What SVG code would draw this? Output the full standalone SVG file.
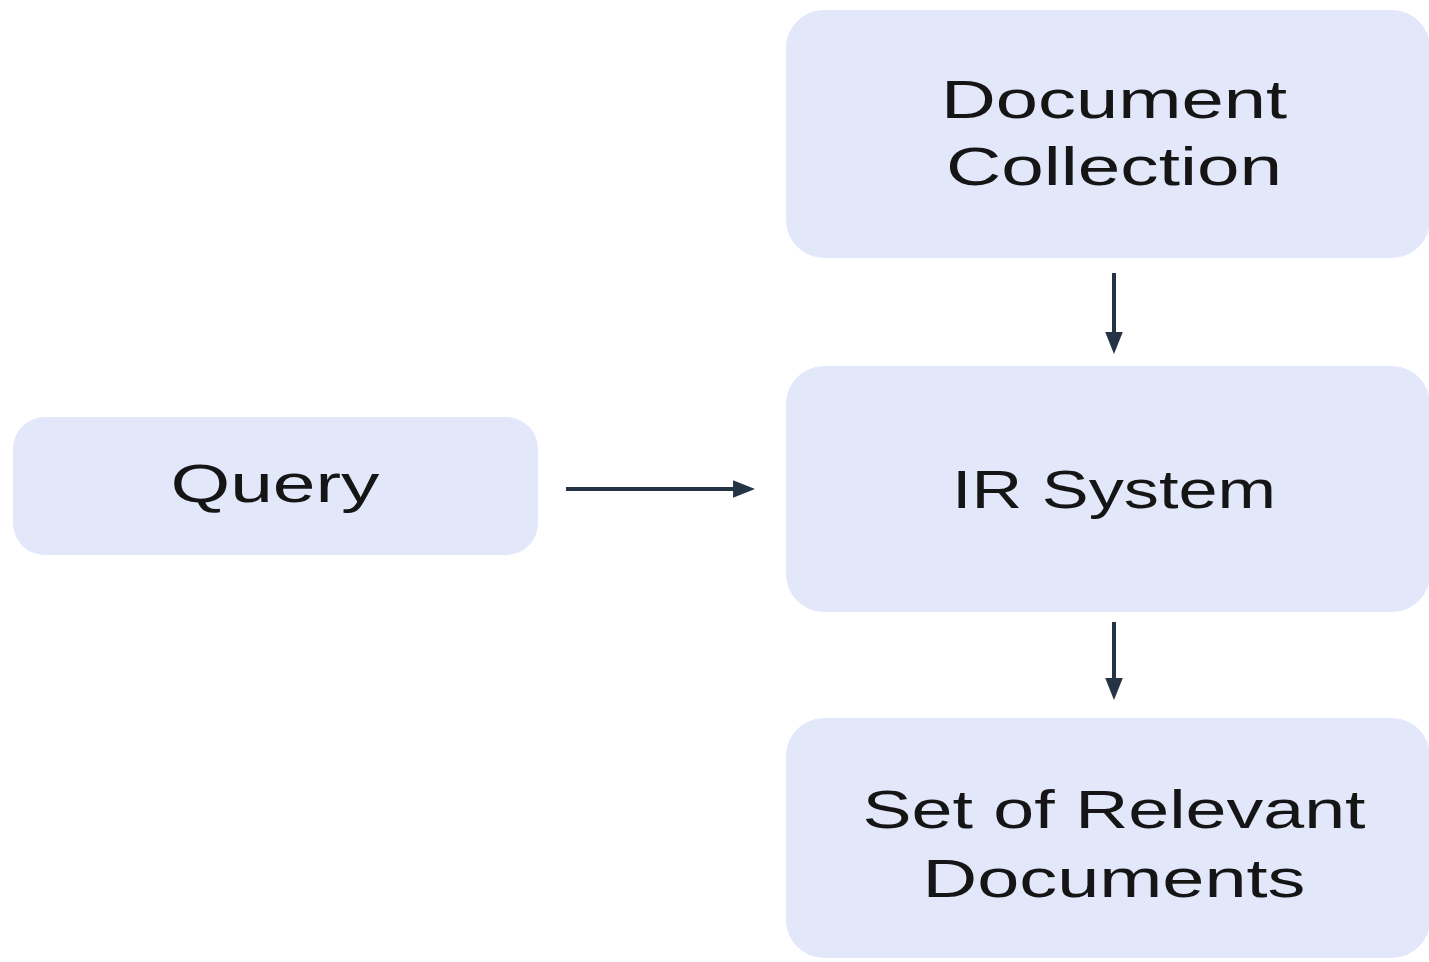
<svg xmlns="http://www.w3.org/2000/svg" width="1429" height="962" viewBox="0 0 1429 962">
<defs>
<style>
.box{fill:#e2e7fa;}
.lbl{font-family:"Liberation Sans",Arial,sans-serif;font-size:54px;fill:#151515;text-anchor:middle;}
.conn{stroke:#253445;stroke-width:4;fill:none;}
</style>
<marker id="ah" viewBox="0 0 10 10" refX="7.7" refY="5" markerWidth="5.5" markerHeight="5.5" markerUnits="strokeWidth" orient="auto">
<path d="M0,1 L10,5 L0,9 Z" fill="#253445"/>
</marker>
</defs>
<rect width="1429" height="962" fill="#ffffff"/>
<g id="doc-collection">
<rect class="box" x="786" y="10" width="644" height="248" rx="38"/>
<text class="lbl" x="1114" y="118" textLength="346" lengthAdjust="spacingAndGlyphs">Document</text>
<text class="lbl" x="1114" y="185" textLength="336" lengthAdjust="spacingAndGlyphs">Collection</text>
</g>
<g id="query">
<rect class="box" x="13" y="417" width="525" height="138" rx="32"/>
<text class="lbl" x="275" y="502" textLength="209" lengthAdjust="spacingAndGlyphs">Query</text>
</g>
<g id="ir-system">
<rect class="box" x="786" y="366" width="644" height="246" rx="38"/>
<text class="lbl" x="1114" y="508" textLength="324" lengthAdjust="spacingAndGlyphs">IR System</text>
</g>
<g id="relevant-docs">
<rect class="box" x="786" y="718" width="644" height="240" rx="38"/>
<text class="lbl" x="1114" y="828" textLength="503" lengthAdjust="spacingAndGlyphs">Set of Relevant</text>
<text class="lbl" x="1114" y="897" textLength="383" lengthAdjust="spacingAndGlyphs">Documents</text>
</g>
<g id="connectors">
<line class="conn" x1="566" y1="489" x2="750" y2="489" marker-end="url(#ah)"/>
<line class="conn" x1="1114" y1="273" x2="1114" y2="349" marker-end="url(#ah)"/>
<line class="conn" x1="1114" y1="622" x2="1114" y2="695" marker-end="url(#ah)"/>
</g>
</svg>
